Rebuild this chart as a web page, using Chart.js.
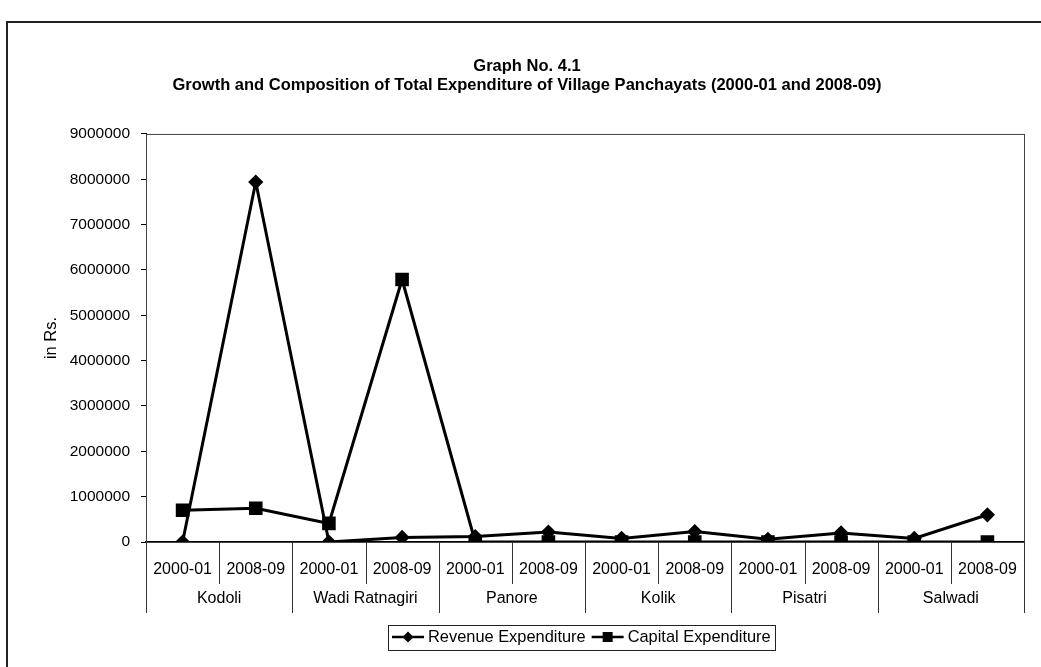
<!DOCTYPE html>
<html>
<head>
<meta charset="utf-8">
<script src="https://cdn.jsdelivr.net/npm/chart.js@4"></script>
<style>
  html, body { margin: 0; padding: 0; background: #fff; }
  #wrap { position: relative; width: 1041px; height: 667px; }
</style>
</head>
<body>
<div id="wrap"><canvas id="c" width="1041" height="667"></canvas></div>
<script>
const villages = ['Kodoli', 'Wadi Ratnagiri', 'Panore', 'Kolik', 'Pisatri', 'Salwadi'];
const years = ['2000-01', '2008-09'];
const revenueExpenditure = [0, 7940000, 0, 100000, 120000, 220000, 80000, 230000, 60000, 200000, 80000, 600000];
const capitalExpenditure = [700000, 745000, 410000, 5790000, 0, 0, 0, 0, 0, 0, 0, 0];
const yTicks = [0, 1000000, 2000000, 3000000, 4000000, 5000000, 6000000, 7000000, 8000000, 9000000];
const titleLines = ['Graph No. 4.1', 'Growth and Composition of Total Expenditure of Village Panchayats (2000-01 and 2008-09)'];
const seriesNames = ['Revenue Expenditure', 'Capital Expenditure'];
const yAxisTitle = 'in Rs.';

const labels = [];
villages.forEach(v => years.forEach(y => labels.push(y)));

const FONT = '"Liberation Sans", Arial, sans-serif';

function drawLegendIcon(ctx, x, y, style) {
  ctx.save();
  ctx.strokeStyle = '#000';
  ctx.lineWidth = 2.5;
  ctx.beginPath(); ctx.moveTo(x, y); ctx.lineTo(x + 32, y); ctx.stroke();
  ctx.fillStyle = '#000';
  const cx = x + 16;
  if (style === 'rectRot') {
    ctx.beginPath(); ctx.moveTo(cx, y - 5.5); ctx.lineTo(cx + 5.5, y); ctx.lineTo(cx, y + 5.5); ctx.lineTo(cx - 5.5, y); ctx.closePath(); ctx.fill();
  } else {
    ctx.fillRect(cx - 5, y - 5, 10, 10);
  }
  ctx.restore();
}

const decor = {
  id: 'decor',
  beforeDraw(chart) {
    const ctx = chart.ctx;
    ctx.save();
    ctx.fillStyle = '#fff';
    ctx.fillRect(0, 0, chart.width, chart.height);
    ctx.strokeStyle = '#222';
    ctx.lineWidth = 2;
    ctx.beginPath();
    ctx.moveTo(7, 667); ctx.lineTo(7, 22); ctx.lineTo(1041, 22);
    ctx.stroke();
    ctx.restore();
  },
  afterDraw(chart) {
    const ctx = chart.ctx;
    const a = chart.chartArea;
    const xs = chart.scales.x;
    ctx.save();
    // plot area border
    ctx.strokeStyle = '#444';
    ctx.lineWidth = 1;
    ctx.strokeRect(a.left + 0.5, a.top + 0.5, a.right - a.left, a.bottom - a.top);
    // category separators
    const n = labels.length;
    const w = (a.right - a.left) / n;
    ctx.strokeStyle = '#333';
    for (let i = 0; i <= n; i++) {
      const x = Math.round(a.left + i * w) + 0.5;
      ctx.beginPath();
      ctx.moveTo(x, a.bottom);
      ctx.lineTo(x, i % 2 === 0 ? a.bottom + 71 : a.bottom + 42);
      ctx.stroke();
    }
    // group labels
    ctx.fillStyle = '#000';
    ctx.font = '16px ' + FONT;
    ctx.textAlign = 'center';
    ctx.textBaseline = 'middle';
    villages.forEach((v, i) => {
      const x = (xs.getPixelForValue(i * 2) + xs.getPixelForValue(i * 2 + 1)) / 2;
      ctx.fillText(v, x, a.bottom + 57);
    });
    // legend
    const styles = chart.data.datasets.map(d => d.pointStyle);
    ctx.font = '16.4px ' + FONT;
    ctx.textAlign = 'left';
    const ly = a.bottom + 95;
    let x = 392;
    const boxLeft = 388;
    chart.data.datasets.forEach((ds, i) => {
      drawLegendIcon(ctx, x, ly, styles[i]);
      x += 36;
      ctx.fillText(ds.label, x, ly);
      x += ctx.measureText(ds.label).width + 6;
    });
    ctx.strokeStyle = '#222';
    ctx.lineWidth = 1;
    ctx.strokeRect(boxLeft + 0.5, Math.round(ly - 12.5) + 0.5, Math.round(x - 2 - boxLeft), 25);
    ctx.restore();
  }
};

new Chart(document.getElementById('c'), {
  type: 'line',
  data: {
    labels: labels,
    datasets: [
      {
        label: seriesNames[0],
        data: revenueExpenditure,
        borderColor: '#000', backgroundColor: '#000',
        borderWidth: 3,
        pointStyle: 'rectRot', pointRadius: 5.5,
        pointBackgroundColor: '#000', pointBorderColor: '#000',
        tension: 0
      },
      {
        label: seriesNames[1],
        data: capitalExpenditure,
        borderColor: '#000', backgroundColor: '#000',
        borderWidth: 3,
        pointStyle: 'rect', pointRadius: 7.5,
        pointBackgroundColor: '#000', pointBorderColor: '#000',
        tension: 0
      }
    ]
  },
  options: {
    responsive: false,
    animation: false,
    devicePixelRatio: 1,
    layout: { padding: { top: 40, left: 30, right: 17, bottom: 47 } },
    plugins: {
      title: {
        display: true,
        text: titleLines,
        color: '#000',
        font: { family: FONT, size: 16.5, weight: 'bold', lineHeight: 1.15 },
        padding: { top: 17, bottom: 39 }
      },
      legend: { display: false },
      tooltip: { enabled: false }
    },
    scales: {
      x: {
        offset: true,
        grid: { display: true, drawOnChartArea: false, drawTicks: false, color: 'rgba(0,0,0,0)', offset: true },
        border: { display: true, color: '#000', width: 1.5 },
        ticks: { color: '#000', font: { family: FONT, size: 16 }, padding: 18, maxRotation: 0, autoSkip: false },
        afterFit(scale) { scale.height = 78; }
      },
      y: {
        min: 0, max: 9000000,
        afterBuildTicks(scale) { scale.ticks = yTicks.map(v => ({ value: v })); },
        grid: { display: true, drawOnChartArea: false, drawTicks: true, tickLength: 5, color: '#000' },
        border: { display: true, color: '#000', width: 1 },
        ticks: { color: '#000', font: { family: FONT, size: 15.5 }, padding: 11, callback: v => String(v) },
        title: { display: true, text: yAxisTitle, color: '#000', font: { family: FONT, size: 16.5 }, padding: { top: 12, bottom: 4 } },
        afterFit(scale) { scale.width = 116; }
      }
    }
  },
  plugins: [decor]
});
</script>
</body>
</html>
